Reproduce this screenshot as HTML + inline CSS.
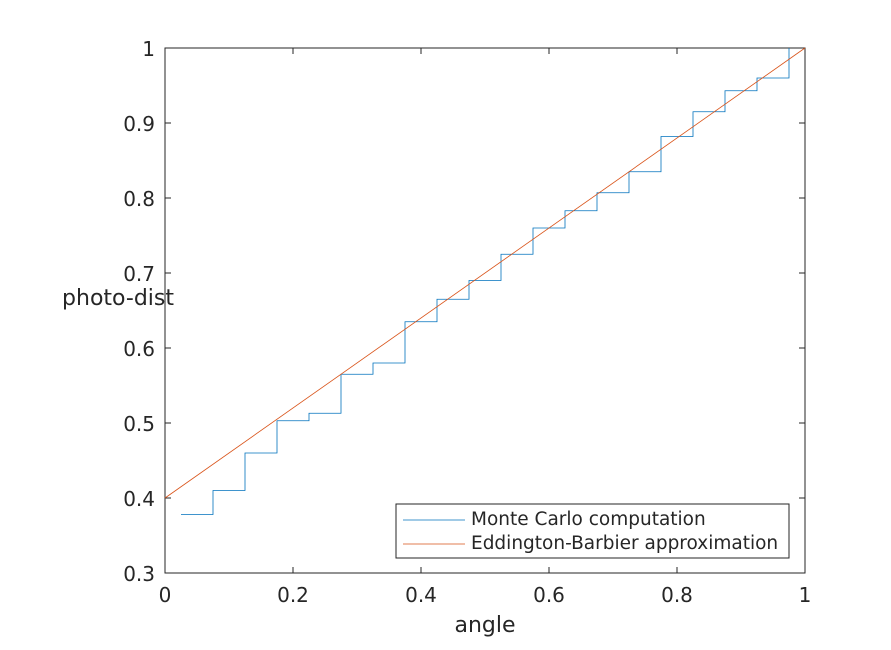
<!DOCTYPE html>
<html><head><meta charset="utf-8"><style>
body{margin:0;background:#fff;}
svg text{font-family:"DejaVu Sans","Liberation Sans",sans-serif;fill:#262626;}
</style></head><body>
<svg id="chart" width="891" height="645" viewBox="0 0 891 645" xmlns="http://www.w3.org/2000/svg">
<rect width="891" height="645" fill="#fff"/>
<g id="plot"></g>
</svg>
<script>
const xTicks=[0,0.2,0.4,0.6,0.8,1];
const xTickLabels=["0","0.2","0.4","0.6","0.8","1"];
const yTicks=[0.3,0.4,0.5,0.6,0.7,0.8,0.9,1];
const yTickLabels=["0.3","0.4","0.5","0.6","0.7","0.8","0.9","1"];
const mcX=[0.025,0.075,0.125,0.175,0.225,0.275,0.325,0.375,0.425,0.475,0.525,0.575,0.625,0.675,0.725,0.775,0.825,0.875,0.925,0.975];
const mcY=[0.378,0.41,0.46,0.503,0.513,0.565,0.58,0.635,0.665,0.69,0.725,0.76,0.783,0.807,0.835,0.882,0.915,0.943,0.96,1.0];
const ebX=[0,1];
const ebY=[0.4,1.0];
const L=165,R=805,T=48,B=573;
const sx=v=>L+(v-0)/(1-0)*(R-L);
const sy=v=>B-(v-0.3)/(1-0.3)*(B-T);
const NS="http://www.w3.org/2000/svg";
const g=document.getElementById('plot');
function mk(tag,attrs){const e=document.createElementNS(NS,tag);for(const k in attrs)e.setAttribute(k,attrs[k]);g.appendChild(e);return e;}
const ax=mk('rect',{x:L,y:T,width:R-L,height:B-T,fill:'none',stroke:'#262626','stroke-width':1});


xTicks.forEach((t,i)=>{
 const x=sx(t);
 const a=mk('path',{d:`M${x},${B}V${B-6}M${x},${T}V${T+6}`,stroke:'#262626','stroke-width':1});
 
 
 const tx=mk('text',{x:x,y:B+29,'text-anchor':'middle','font-size':20});
 tx.textContent=xTickLabels[i];
 
 
});
yTicks.forEach((t,i)=>{
 const y=sy(t);
 const a=mk('path',{d:`M${L},${y}H${L+6}M${R},${y}H${R-6}`,stroke:'#262626','stroke-width':1});
 
 
 const tx=mk('text',{x:L-10,y:y+8,'text-anchor':'end','font-size':20});
 tx.textContent=yTickLabels[i];
 
 
});
let d=`M${sx(mcX[0])},${sy(mcY[0])}`;
for(let i=1;i<mcX.length;i++){d+=`H${sx(mcX[i])}V${sy(mcY[i])}`;}
const mc=mk('path',{d:d,fill:'none',stroke:'#0072BD','stroke-width':0.8});


const eb=mk('path',{d:`M${sx(ebX[0])},${sy(ebY[0])}L${sx(ebX[1])},${sy(ebY[1])}`,stroke:'#D95319','stroke-width':0.8,fill:'none'});


const xl=mk('text',{x:485,y:632,'text-anchor':'middle','font-size':22});
xl.textContent='angle';


const yl=mk('text',{x:174,y:305,'text-anchor':'end','font-size':22});
yl.textContent='photo-dist';


const lg=mk('rect',{x:396,y:504,width:393,height:54,fill:'#fff',stroke:'#262626','stroke-width':1});


const l1=mk('path',{d:'M403,520H465',stroke:'#0072BD','stroke-width':0.8});


const t1=mk('text',{x:471,y:525,'font-size':18.5});
t1.textContent='Monte Carlo computation';


const l2=mk('path',{d:'M403,544H465',stroke:'#D95319','stroke-width':0.8});


const t2=mk('text',{x:471,y:549,'font-size':18.5});
t2.textContent='Eddington-Barbier approximation';


</script>
</body></html>
